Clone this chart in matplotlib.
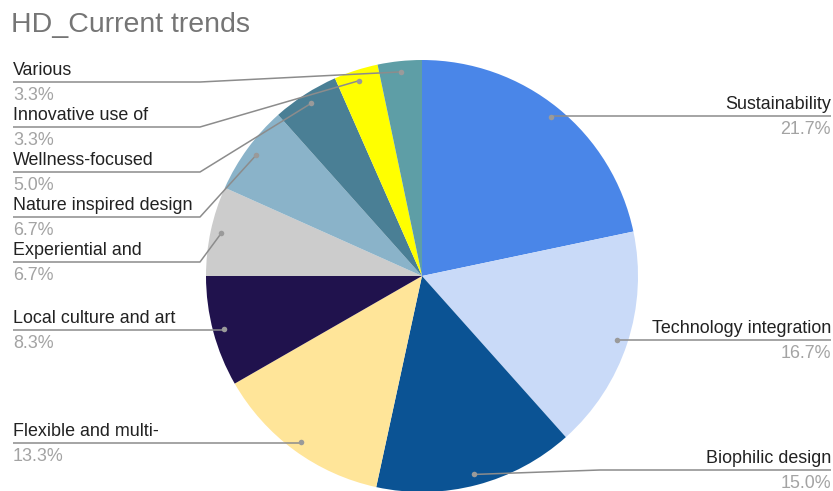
import numpy as np
import matplotlib
matplotlib.use("Agg")
import matplotlib.pyplot as plt

plt.rcParams['font.family'] = ['Liberation Sans', 'DejaVu Sans']

# slices, clockwise from 12 o'clock
trends = ["Sustainability", "Technology integration", "Biophilic design",
          "Flexible and multi-", "Local culture and art", "Experiential and",
          "Nature inspired design", "Wellness-focused", "Innovative use of",
          "Various"]
shares = [21.7, 16.7, 15.0, 13.3, 8.3, 6.7, 6.7, 5.0, 3.3, 3.3]
colors = ["#4a86e8", "#c9daf8", "#0b5394", "#ffe599", "#20124d",
          "#cccccc", "#8ab3c9", "#4a7f95", "#ffff00", "#5e9ea6"]

W, H = 833, 491
fig = plt.figure(figsize=(W / 100, H / 100), dpi=100)
ax = fig.add_axes([0, 0, 1, 1])

cx, cy, r = 422, H - 276, 216
wedges, _ = ax.pie(shares, colors=colors, startangle=90, counterclock=False,
                   center=(cx, cy), radius=r, frame=True,
                   wedgeprops=dict(linewidth=0))
ax.set_xlim(0, W)
ax.set_ylim(0, H)
ax.set_aspect("equal")
ax.axis("off")

ax.text(11, H - 25, "HD_Current trends", fontsize=20.5, color="#757575",
        va="center", ha="left")

# label placement: (underline y in px from top, side, elbow x)
layout = {
    "Sustainability": (116, "right", None),
    "Technology integration": (340, "right", None),
    "Biophilic design": (470, "right", 600),
    "Flexible and multi-": (443, "left", None),
    "Local culture and art": (330, "left", None),
    "Experiential and": (262, "left", 200),
    "Nature inspired design": (217, "left", 200),
    "Wellness-focused": (172, "left", 200),
    "Innovative use of": (127, "left", 200),
    "Various": (82, "left", 200),
}

line_col = "#8c8c8c"
for w, name, val in zip(wedges, trends, shares):
    mid = np.deg2rad((w.theta1 + w.theta2) / 2)
    dx = cx + 0.95 * r * np.cos(mid)
    dy = cy + 0.95 * r * np.sin(mid)
    uy_px, side, elbow = layout[name]
    uy = H - uy_px
    if side == "left":
        x0, ha = 13, "left"
    else:
        x0, ha = 831, "right"
    if elbow is None:
        xs, ys = [x0, dx], [uy, uy]
    else:
        xs, ys = [x0, elbow, dx], [uy, uy, dy]
    ax.plot(xs, ys, color=line_col, lw=1.1, solid_capstyle="butt")
    ax.plot(dx, dy, "o", color="#9a9a9a", ms=4, mec="none")
    ax.text(x0, uy + 3, name, fontsize=12.9, color="#222222",
            ha=ha, va="bottom")
    ax.text(x0, uy - 5, f"{val:.1f}%", fontsize=12.9, color="#a3a3a3",
            ha=ha, va="top")

fig.savefig("out.png", dpi=100)
